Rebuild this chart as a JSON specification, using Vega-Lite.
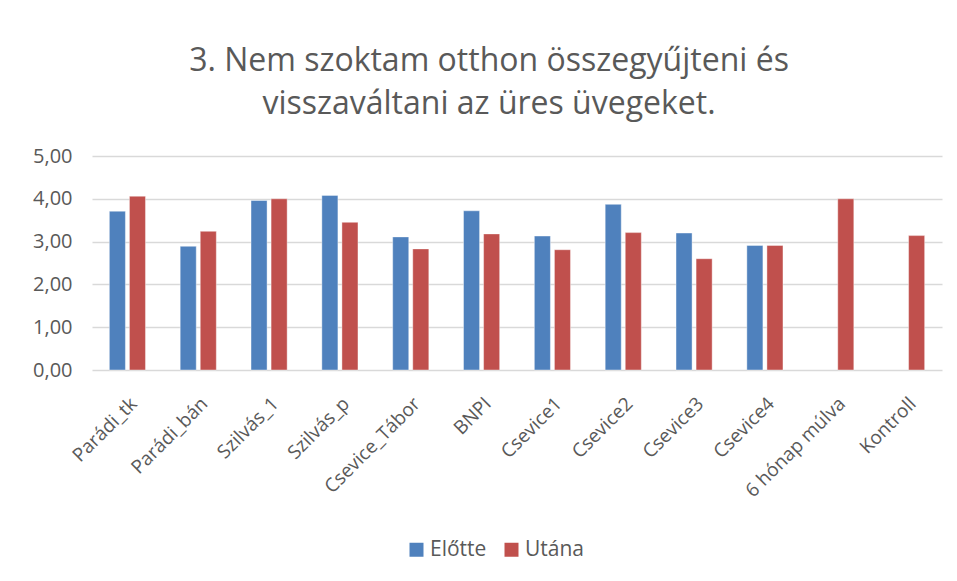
{
  "$schema": "https://vega.github.io/schema/vega-lite/v6.json",
  "width": 850,
  "height": 214,
  "autosize": "none",
  "padding": {"left": 92, "top": 156, "right": 15, "bottom": 211},
  "background": "white",
  "title": {
    "text": ["3. Nem szoktam otthon összegyűjteni és", "visszaváltani az üres üvegeket."],
    "font": "Open Sans",
    "fontSize": 32,
    "fontWeight": "normal",
    "color": "#595959",
    "anchor": "middle",
    "dx": -28,
    "offset": 25,
    "lineHeight": 43
  },
  "data": {
    "values": [
      {"cat": "Parádi_tk", "series": "Előtte", "value": 3.71},
      {"cat": "Parádi_tk", "series": "Utána", "value": 4.06},
      {"cat": "Parádi_bán", "series": "Előtte", "value": 2.89},
      {"cat": "Parádi_bán", "series": "Utána", "value": 3.24},
      {"cat": "Szilvás_1", "series": "Előtte", "value": 3.96},
      {"cat": "Szilvás_1", "series": "Utána", "value": 4.0},
      {"cat": "Szilvás_p", "series": "Előtte", "value": 4.08},
      {"cat": "Szilvás_p", "series": "Utána", "value": 3.45},
      {"cat": "Csevice_Tábor", "series": "Előtte", "value": 3.11},
      {"cat": "Csevice_Tábor", "series": "Utána", "value": 2.83},
      {"cat": "BNPI", "series": "Előtte", "value": 3.72},
      {"cat": "BNPI", "series": "Utána", "value": 3.18},
      {"cat": "Csevice1", "series": "Előtte", "value": 3.13},
      {"cat": "Csevice1", "series": "Utána", "value": 2.81},
      {"cat": "Csevice2", "series": "Előtte", "value": 3.87},
      {"cat": "Csevice2", "series": "Utána", "value": 3.21},
      {"cat": "Csevice3", "series": "Előtte", "value": 3.2},
      {"cat": "Csevice3", "series": "Utána", "value": 2.6},
      {"cat": "Csevice4", "series": "Előtte", "value": 2.91},
      {"cat": "Csevice4", "series": "Utána", "value": 2.91},
      {"cat": "6 hónap múlva", "series": "Utána", "value": 4.0},
      {"cat": "Kontroll", "series": "Utána", "value": 3.14}
    ]
  },
  "mark": {"type": "bar", "stroke": "white", "strokeOpacity": 0.4, "strokeWidth": 1},
  "encoding": {
    "x": {
      "field": "cat",
      "type": "nominal",
      "sort": null,
      "title": null,
      "scale": {"paddingInner": 0.49, "paddingOuter": 0.245},
      "axis": {
        "labelAngle": -45,
        "labelFont": "Open Sans",
        "labelFontSize": 19,
        "labelColor": "#595959",
        "domain": false,
        "ticks": false,
        "labelPadding": 24
      }
    },
    "xOffset": {
      "field": "series",
      "type": "nominal",
      "scale": {"domain": ["Előtte", "Utána"], "paddingInner": 0.2, "paddingOuter": 0}
    },
    "y": {
      "field": "value",
      "type": "quantitative",
      "title": null,
      "scale": {"domain": [0, 5], "nice": false},
      "axis": {
        "values": [0, 1, 2, 3, 4, 5],
        "labelExpr": "replace(format(datum.value, '.2f'), '.', ',')",
        "labelFont": "Open Sans",
        "labelFontSize": 20,
        "labelColor": "#595959",
        "domain": false,
        "ticks": false,
        "labelPadding": 20,
        "gridColor": "#d9d9d9",
        "gridWidth": 1.3
      }
    },
    "color": {
      "field": "series",
      "type": "nominal",
      "scale": {"domain": ["Előtte", "Utána"], "range": ["#4F81BD", "#C0504D"]},
      "legend": {
        "title": null,
        "orient": "none",
        "direction": "horizontal",
        "legendX": 314,
        "legendY": 383,
        "symbolType": "square",
        "symbolSize": 196,
        "symbolStrokeWidth": 0,
        "labelFont": "Open Sans",
        "labelFontSize": 21,
        "labelColor": "#595959",
        "columnPadding": 14,
        "labelOffset": 3
      }
    }
  },
  "config": {"view": {"stroke": null}}
}
